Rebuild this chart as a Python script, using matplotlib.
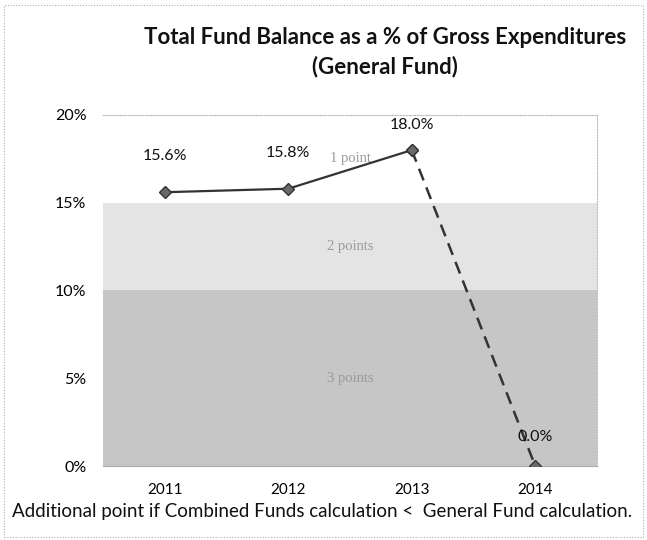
import matplotlib.pyplot as plt
from matplotlib.patches import Rectangle

# fund balance as a share of gross expenditures
years = ['2011', '2012', '2013', '2014']
balance_pct = [15.6, 15.8, 18.0, 0.0]

# scoring bands (lower, upper, label)
band_lows = [0, 10, 15]
band_highs = [10, 15, 20]
band_labels = ['3 points', '2 points', '1 point']
band_colors = ['#c6c6c6', '#e4e4e4', '#ffffff']

fig = plt.figure(figsize=(6.47, 5.40), dpi=100)
plt.rcParams['font.family'] = ['Lato', 'DejaVu Sans']

ax = fig.add_axes([103 / 647, 1 - 466 / 540, 494 / 647, 351 / 540])
x = list(range(len(years)))

for lo, hi, lab, col in zip(band_lows, band_highs, band_labels, band_colors):
    ax.axhspan(lo, hi, color=col, zorder=0, lw=0)
    ax.text(1.5, (lo + hi) / 2, lab, ha='center', va='center', fontsize=10.5,
            color='#9a9a9a', family='Liberation Serif', zorder=1)

# solid through 2013, dashed drop to 2014
ax.plot(x[:3], balance_pct[:3], color='#333333', lw=1.6, marker='D', ms=6,
        mfc='#6a6a6a', mec='#333333', zorder=3)
ax.plot(x[2:], balance_pct[2:], color='#333333', lw=1.8, ls=(0, (5, 3)),
        marker='D', ms=6, mfc='#6a6a6a', mec='#333333', zorder=3)

# label offsets above each point, in points
label_offsets = [26, 26, 18, 21]
for xi, v, off in zip(x, balance_pct, label_offsets):
    ax.annotate(f'{v:.1f}%', (xi, v), xytext=(0, off),
                textcoords='offset points', ha='center', va='center', fontsize=11.5,
                color='#111111', zorder=4)

ax.set_xlim(-0.5, 3.5)
ax.set_ylim(0, 20)
ax.set_xticks(x)
ax.set_xticklabels(years, fontsize=11)
ax.set_yticks([0, 5, 10, 15, 20])
ax.set_yticklabels(['0%', '5%', '10%', '15%', '20%'], fontsize=11.5)
ax.tick_params(length=0, pad=12)
ax.tick_params(axis='x', pad=12)
for side in ['top', 'right']:
    ax.spines[side].set_color('#bbbbbb')
    ax.spines[side].set_linestyle((0, (1, 1.5)))
    ax.spines[side].set_linewidth(0.8)
ax.spines['bottom'].set_color('#aaaaaa')
ax.spines['bottom'].set_linewidth(0.8)
ax.spines['left'].set_visible(False)

fig.text(385 / 647, 1 - 38 / 540, 'Total Fund Balance as a % of Gross Expenditures',
         ha='center', va='center', fontsize=16, fontweight='bold', color='#111111')
fig.text(385 / 647, 1 - 67 / 540, '(General Fund)',
         ha='center', va='center', fontsize=16, fontweight='bold', color='#111111')
fig.text(12 / 647, 1 - 512 / 540,
         'Additional point if Combined Funds calculation <  General Fund calculation.',
         ha='left', va='center', fontsize=13.5, color='#111111')

# dotted outer frame
fig.patches.append(Rectangle((4 / 647, 3 / 540), 639 / 647, 532 / 540,
                             transform=fig.transFigure, fill=False,
                             ec='#b0b0b0', lw=0.8, ls=(0, (1, 1.5))))

fig.savefig('out.png', dpi=100)
